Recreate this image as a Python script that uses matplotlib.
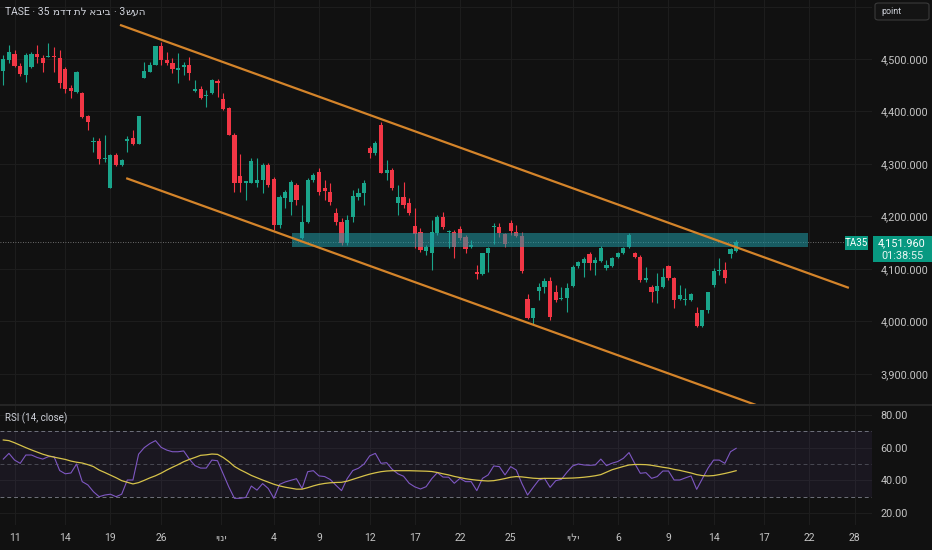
import matplotlib
matplotlib.use('Agg')
import numpy as np
import matplotlib.pyplot as plt
from matplotlib.patches import Rectangle, FancyBboxPatch
from matplotlib.lines import Line2D

plt.rcParams['font.family'] = ['Roboto', 'DejaVu Sans']

# chart texts; the text engine reorders Hebrew runs itself, so the title is
# split into plain LTR and plain Hebrew pieces (logical order)
title_pieces = ["TASE · 35", "מדד תל אביב", "· 3", "שעה"]
rsi_title = "RSI (14, close)"
symbol = "TA35"
last_price = 4151.96
countdown = "01:38:55"

# candles (3h bars)
opens = [4477, 4498, 4510, 4487, 4470, 4485, 4510, 4502, 4504, 4505,
         4502, 4481, 4445, 4437, 4435, 4391, 4342, 4344, 4310, 4254,
         4317, 4298, 4344, 4350, 4338, 4464, 4475, 4489, 4525, 4498,
         4492, 4479, 4485, 4489, 4439, 4443, 4429, 4435, 4458, 4424,
         4407, 4355, 4277, 4264, 4264, 4264, 4270, 4298, 4271, 4184,
         4235, 4228, 4260, 4159, 4190, 4270, 4285, 4254, 4247, 4207,
         4190, 4150, 4199, 4237, 4245, 4330, 4321, 4374, 4283, 4289,
         4226, 4237, 4226, 4182, 4170, 4134, 4130, 4169, 4199, 4170,
         4170, 4176, 4161, 4142, 4094, 4090, 4130, 4180, 4180, 4167,
         4188, 4170, 4163, 4043, 4007, 4058, 4066, 4077, 4056, 4043,
         4045, 4068, 4106, 4111, 4129, 4111, 4115, 4102, 4106, 4123,
         4130, 4142, 4130, 4123, 4079, 4066, 4058, 4066, 4106, 4083,
         4043, 4040, 4041, 4016, 3991, 4022, 4069, 4097, 4098, 4129,
         4134]
highs = [4508, 4527, 4517, 4492, 4511, 4513, 4527, 4508, 4530, 4523,
         4517, 4485, 4450, 4477, 4437, 4393, 4351, 4350, 4355, 4319,
         4321, 4310, 4353, 4365, 4392, 4494, 4494, 4525, 4532, 4513,
         4502, 4511, 4494, 4504, 4460, 4449, 4441, 4462, 4462, 4435,
         4409, 4359, 4319, 4268, 4311, 4311, 4302, 4302, 4275, 4241,
         4250, 4270, 4264, 4222, 4273, 4283, 4292, 4270, 4264, 4216,
         4197, 4203, 4251, 4254, 4270, 4334, 4344, 4380, 4308, 4292,
         4260, 4266, 4235, 4216, 4178, 4146, 4193, 4203, 4209, 4174,
         4174, 4182, 4165, 4155, 4108, 4131, 4142, 4188, 4188, 4169,
         4193, 4184, 4170, 4052, 4026, 4073, 4083, 4085, 4070, 4066,
         4073, 4108, 4115, 4123, 4132, 4123, 4144, 4117, 4123, 4132,
         4142, 4169, 4132, 4127, 4104, 4070, 4092, 4102, 4108, 4085,
         4070, 4064, 4054, 4028, 4022, 4056, 4102, 4121, 4113, 4140,
         4155]
lows = [4450, 4492, 4485, 4468, 4456, 4483, 4492, 4475, 4503, 4475,
        4445, 4435, 4426, 4435, 4388, 4365, 4323, 4300, 4304, 4254,
        4296, 4296, 4323, 4336, 4338, 4464, 4475, 4489, 4489, 4489,
        4473, 4454, 4470, 4460, 4437, 4424, 4409, 4433, 4428, 4403,
        4355, 4247, 4247, 4231, 4263, 4256, 4245, 4256, 4174, 4178,
        4216, 4203, 4222, 4157, 4188, 4266, 4241, 4231, 4222, 4184,
        4146, 4146, 4190, 4231, 4222, 4311, 4317, 4283, 4270, 4250,
        4203, 4216, 4203, 4140, 4132, 4127, 4098, 4165, 4176, 4140,
        4121, 4155, 4130, 4140, 4081, 4089, 4094, 4148, 4161, 4142,
        4165, 4161, 4092, 4005, 3995, 4041, 4054, 4003, 4037, 4041,
        4018, 4066, 4102, 4085, 4098, 4089, 4113, 4098, 4104, 4121,
        4129, 4140, 4121, 4075, 4075, 4037, 4035, 4064, 4079, 4026,
        4041, 4031, 4039, 3990, 3990, 4016, 4066, 4089, 4073, 4121,
        4132]
closes = [4500, 4513, 4487, 4471, 4508, 4510, 4504, 4492, 4506, 4503,
          4454, 4443, 4439, 4475, 4390, 4380, 4344, 4310, 4312, 4317,
          4298, 4308, 4348, 4338, 4391, 4477, 4489, 4525, 4498, 4492,
          4481, 4483, 4489, 4473, 4443, 4426, 4431, 4460, 4454, 4405,
          4355, 4264, 4264, 4267, 4306, 4270, 4298, 4260, 4184, 4237,
          4247, 4266, 4231, 4190, 4270, 4279, 4247, 4249, 4228, 4190,
          4150, 4193, 4239, 4245, 4264, 4321, 4340, 4283, 4289, 4254,
          4237, 4222, 4207, 4167, 4136, 4142, 4170, 4199, 4180, 4172,
          4142, 4159, 4138, 4146, 4090, 4130, 4140, 4182, 4169, 4148,
          4172, 4163, 4096, 4007, 4026, 4066, 4077, 4009, 4041, 4045,
          4064, 4104, 4113, 4119, 4111, 4117, 4140, 4108, 4121, 4130,
          4140, 4165, 4123, 4079, 4083, 4056, 4068, 4085, 4083, 4041,
          4050, 4043, 4052, 3991, 4022, 4056, 4096, 4098, 4083, 4138,
          4151.96]

rsi = [53, 56.5, 52.4, 50.4, 55.5, 55.5, 54, 53, 54.5, 54.5,
       46, 44, 44.5, 50, 39.2, 37.2, 33, 30, 31, 31.5,
       30, 31.5, 40.2, 40.2, 56, 60, 62.5, 64.3, 60.2, 58.5,
       57.5, 57.5, 58, 53, 49, 47.5, 47.5, 52.4, 52, 44,
       36, 29, 29, 29.5, 36.5, 34, 38, 35, 29, 37.5,
       39, 40, 41, 35, 45.3, 45.9, 42.7, 42.3, 40.5, 37,
       33.7, 41, 46, 47.4, 50, 55, 56.5, 50.4, 50.8, 46.7,
       44, 42.5, 38.2, 36, 34.7, 36.1, 41, 44.7, 42, 41.9,
       38.2, 41.2, 39.2, 39.2, 33.7, 41.2, 43.3, 48.8, 48.4, 43.3,
       48.4, 46.3, 38, 31, 35.7, 40.2, 41.2, 35.7, 39.8, 40.6,
       45, 48.8, 50, 49.4, 49.2, 49.4, 53, 49, 50.5, 51.5,
       53.5, 57, 50.4, 44.3, 44.7, 41.2, 42.3, 45.7, 45.7, 40.2,
       40.2, 41.5, 42.7, 34.5, 41, 47.4, 52.4, 52.4, 50.4, 57.5,
       59.6]
rsi_ma = [64.7, 64.3, 63, 61.5, 60, 58.6, 57.3, 56, 55, 54.2,
          53.5, 52.8, 51.8, 51.1, 50.6, 49.6, 48.4, 46.3, 44.8, 43.2,
          41.6, 39.8, 38.8, 37.8, 38.6, 40, 41.5, 42.8, 44.4, 46.3,
          48, 49.6, 51.4, 52.8, 54, 55.3, 55.6, 56.1, 55.9, 54,
          51.5, 48.5, 46.5, 44.8, 43, 41.6, 40.2, 38.9, 37.6, 36.6,
          35.8, 35.2, 34.6, 34.6, 35.5, 36.6, 37.5, 38.1, 38.5, 38.7,
          38.8, 39.5, 40.6, 41.7, 42.8, 43.8, 44.6, 45.3, 45.7, 45.9,
          45.9, 45.9, 45.9, 45.8, 45.7, 45.6, 45.4, 44.8, 44, 43.3,
          42.4, 41.7, 41.0, 40.5, 40.1, 39.8, 39.6, 39.8, 40.4, 41.1,
          41.9, 42.3, 42.1, 41.7, 41.3, 41.1, 41.2, 41.2, 41.2, 41.2,
          41.3, 41.4, 41.6, 41.9, 42.3, 42.8, 43.5, 45, 46.5, 47.5,
          48.5, 49.4, 49.7, 49.7, 49.6, 49.2, 48.6, 48, 47.5, 46.7,
          46.1, 45.3, 44.5, 43.5, 42.9, 42.7, 42.9, 43.5, 44.2, 45,
          45.9]

# drawings: channel (bar index, price) and the resistance zone
upper_x, upper_y = [20.7, 150.0], [4565, 4064]
lower_x, lower_y = [21.8, 133.5], [4273, 3841]
zone_x0, zone_x1 = 51.2, 142.7
zone_lo, zone_hi = 4142, 4168.6

# time axis labels (bar index of the first bar of the day)
tick_pos = [2, 11, 19, 28, 38.6, 48, 56, 65, 73, 81, 90, 101, 109, 118, 126, 135, 143, 151]
tick_labels = ['11', '14', '19', '26', 'יוני', '4', '9', '12', '17', '22', '25',
               'יולי', '6', '9', '14', '17', '22', '28']
price_ticks = [3900, 4000, 4100, 4200, 4300, 4400, 4500, 4600]
rsi_ticks = [20, 40, 60, 80]

bg = '#111111'
grid_c = '#1d1d1d'
txt_c = '#c4c4c4'
up_c = '#1aa58b'
dn_c = '#f23645'
orange = '#d4842a'

W, H = 932, 550
fig = plt.figure(figsize=(W / 100, H / 100), dpi=100, facecolor=bg)
ax = fig.add_axes([0, 1 - 404 / H, 872 / W, 404 / H], facecolor=bg)
ax_r = fig.add_axes([0, 1 - 525 / H, 872 / W, 119 / H], facecolor=bg, sharex=ax)

x = np.arange(len(opens))
o, h, l, c = map(np.array, (opens, highs, lows, closes))
cols = np.where(c >= o, up_c, dn_c)

ax.vlines(x, l, h, colors=cols, lw=0.8, zorder=3)
body = np.maximum(np.abs(c - o), 1.5)
ax.bar(x, body, bottom=np.minimum(o, c), width=0.74, color=cols, zorder=3, linewidth=0)

ax.add_patch(Rectangle((zone_x0, zone_lo), zone_x1 - zone_x0, zone_hi - zone_lo,
                       facecolor='#1e9aa5', alpha=0.55, edgecolor='none', zorder=4))
ax.plot(upper_x, upper_y, color=orange, lw=1.6, zorder=5, solid_capstyle='butt')
ax.plot(lower_x, lower_y, color=orange, lw=1.6, zorder=5, solid_capstyle='butt')
ax.axhline(last_price, xmax=845 / 872, color='#8a8a8a', lw=0.6, ls=(0, (1, 2)), zorder=2)

ax.set_xlim(-0.585, 154.1)
ax.set_ylim(3842.8, 4612.4)
ax.yaxis.tick_right()
ax.set_yticks(price_ticks)
ax.set_yticklabels([f'{p:,.3f}' if p < 4600 else '' for p in price_ticks])
ax.tick_params(axis='y', length=0, pad=6, labelsize=7.8, labelcolor=txt_c)
ax.tick_params(axis='x', length=0, labelbottom=False)
ax.grid(True, color=grid_c, lw=0.8)
ax.set_axisbelow(True)

# RSI pane
ax_r.axhspan(30, 70, color='#7e57c2', alpha=0.09, lw=0)
for lvl, a in ((70, 0.9), (50, 0.5), (30, 0.9)):
    ax_r.axhline(lvl, color='#787b86', lw=0.7, ls=(0, (4, 3)), alpha=a)
ax_r.plot(x, rsi, color='#7e57c2', lw=0.8, zorder=3)
ax_r.plot(x, rsi_ma, color='#d6c24a', lw=0.9, zorder=3)
ax_r.set_ylim(12.66, 85.5)
ax_r.yaxis.tick_right()
ax_r.set_yticks(rsi_ticks)
ax_r.set_yticklabels([f'{v:.2f}' for v in rsi_ticks])
ax_r.tick_params(axis='y', length=0, pad=6, labelsize=7.8, labelcolor=txt_c)
ax_r.set_xticks(tick_pos)
ax_r.set_xticklabels(tick_labels)
ax_r.tick_params(axis='x', length=0, pad=6, labelsize=7.5, labelcolor=txt_c)
ax_r.grid(True, color=grid_c, lw=0.8)
ax_r.set_axisbelow(True)

for a in (ax, ax_r):
    for s in a.spines.values():
        s.set_visible(False)

fig.add_artist(Line2D([0, 1], [1 - 405 / H] * 2, color='#2a2a2a', lw=1.2))

def px(xp, yp):
    return xp / W, 1 - yp / H

# title, laid out piece by piece
renderer = fig.canvas.get_renderer()
gaps = [3.3, 3.3, 0.3, 0]
xx = 5
for piece, gap in zip(title_pieces, gaps):
    t = fig.text(*px(xx, 12), piece, fontsize=7.5, color='#d1d4dc', va='center', ha='left')
    xx += t.get_window_extent(renderer).width + gap

fig.text(*px(5, 418), rsi_title, fontsize=7, color='#d1d4dc', va='center', ha='left')

# last price labels
fig.add_artist(Rectangle(px(873, 262), 59 / W, 26 / H, facecolor='#089981',
                         edgecolor='none', transform=fig.transFigure))
fig.text(*px(902, 243), f'{last_price:,.3f}', fontsize=7.8, color='white', ha='center', va='center')
fig.text(*px(902, 256), countdown, fontsize=7.8, color='#e8f5f2', ha='center', va='center')
fig.add_artist(Rectangle(px(845, 250), 23 / W, 14 / H, facecolor='#089981',
                         edgecolor='none', transform=fig.transFigure))
fig.text(*px(856.5, 243), symbol, fontsize=7, color='white', ha='center', va='center')

# unit box
fig.add_artist(FancyBboxPatch(px(875, 20), 54 / W, 17 / H,
                              boxstyle='round,pad=0,rounding_size=0.004',
                              facecolor='#141414', edgecolor='#3a3a3a', lw=0.8,
                              transform=fig.transFigure))
fig.text(*px(881, 11.5), 'point', fontsize=6.5, color='#d1d4dc', va='center', ha='left')

fig.savefig('out.png', dpi=100, facecolor=bg)
